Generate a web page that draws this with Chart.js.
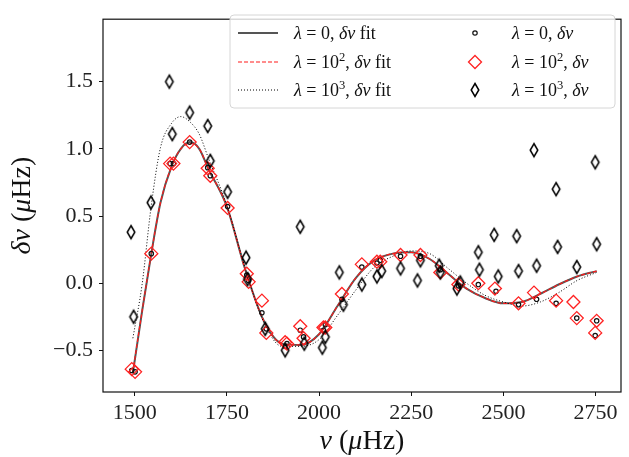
<!DOCTYPE html>
<html>
<head>
<meta charset="utf-8">
<script src="https://cdn.jsdelivr.net/npm/chart.js@4.4.1/dist/chart.umd.min.js"></script>
<style>
html,body{margin:0;padding:0;background:#fff;}
</style>
</head>
<body>
<canvas id="chart" width="629" height="457"></canvas>
<script>
// Fitted curves, sampled along nu (muHz)
const fitNu = [1495,1520,1545,1570,1600,1625,1650,1675,1700,1750,1800,1850,1900,1950,2000,2050,2100,2150,2200,2250,2300,2350,2400,2450,2500,2550,2600,2650,2700,2753];
const fit0 = [-0.67,-0.21,0.22,0.60,0.87,1.00,1.05,1.00,0.85,0.57,0.10,-0.28,-0.45,-0.46,-0.38,-0.17,0.04,0.17,0.22,0.23,0.18,0.07,-0.04,-0.11,-0.15,-0.14,-0.08,-0.01,0.05,0.09];
const fit2 = [-0.66,-0.21,0.22,0.60,0.87,1.00,1.04,1.00,0.85,0.57,0.10,-0.28,-0.45,-0.46,-0.38,-0.17,0.04,0.17,0.22,0.23,0.18,0.07,-0.04,-0.11,-0.15,-0.14,-0.08,-0.01,0.05,0.09];
const fit3 = [-0.41,-0.01,0.58,1.01,1.19,1.24,1.20,1.11,0.93,0.58,0.11,-0.29,-0.47,-0.47,-0.42,-0.24,-0.05,0.12,0.20,0.24,0.22,0.11,0.00,-0.09,-0.14,-0.17,-0.14,-0.07,0.02,0.08];

// lambda = 0 points
const nu0 = [1492,1501,1545,1596,1605,1649,1698,1705,1752,1804,1809,1845,1857,1908,1913,1949,1958,2012,2017,2062,2116,2157,2166,2221,2275,2329,2378,2432,2480,2541,2590,2643,2699,2749,2753];
const dnu0 = [-0.65,-0.66,0.22,0.89,0.89,1.05,0.86,0.80,0.57,0.06,0.02,-0.22,-0.34,-0.47,-0.45,-0.35,-0.40,-0.35,-0.31,-0.12,0.12,0.15,0.17,0.20,0.20,0.10,-0.02,-0.01,-0.06,-0.16,-0.12,-0.15,-0.26,-0.39,-0.28];

// lambda = 10^2 points
const nu2 = [1492,1501,1545,1596,1605,1649,1698,1705,1752,1804,1809,1845,1857,1908,1913,1949,1958,2012,2017,2062,2116,2157,2166,2221,2275,2329,2378,2432,2477,2541,2583,2643,2690,2699,2749,2753];
const dnu2 = [-0.64,-0.66,0.22,0.89,0.89,1.05,0.855,0.80,0.56,0.07,0.01,-0.13,-0.37,-0.44,-0.45,-0.32,-0.41,-0.33,-0.33,-0.08,0.14,0.16,0.16,0.21,0.21,0.08,-0.01,0.00,-0.04,-0.15,-0.07,-0.13,-0.14,-0.26,-0.37,-0.28];

// lambda = 10^3 points
const nu3 = [1490,1497,1544,1594,1602,1649,1698,1705,1752,1802,1806,1854,1908,1949,1960,2009,2017,2055,2066,2116,2157,2170,2221,2267,2275,2326,2329,2374,2383,2432,2435,2475,2486,2536,2541,2583,2590,2643,2647,2699,2749,2753];
const dnu3 = [0.38,-0.25,0.60,1.50,1.11,1.27,1.17,0.91,0.68,0.19,0.03,-0.34,-0.50,0.42,-0.45,-0.48,-0.40,0.08,-0.16,-0.01,0.05,0.09,0.11,0.02,0.17,0.13,0.08,-0.04,0.005,0.23,0.10,0.36,0.05,0.35,0.09,0.99,0.13,0.70,0.27,0.12,0.90,0.29];

const xTicks = [1500,1750,2000,2250,2500,2750];
const yTicks = [-0.5,0.0,0.5,1.0,1.5];
const fitLabels = ['λ = 0, δν fit','λ = 10^2, δν fit','λ = 10^3, δν fit'];
const ptLabels = ['λ = 0, δν','λ = 10^2, δν','λ = 10^3, δν'];
const xTitle = 'ν (μHz)';
const yTitle = 'δν (μHz)';

const SERIF = '"Liberation Serif", "DejaVu Serif", serif';

function pairs(xs, ys) { return xs.map((x, i) => ({x: x, y: ys[i]})); }

// narrow diamond marker (matplotlib "d")
function thinDiamond() {
  const c = document.createElement('canvas');
  c.width = 12; c.height = 18;
  const g = c.getContext('2d');
  g.strokeStyle = '#000';
  g.lineWidth = 1.5;
  g.beginPath();
  g.moveTo(6, 2.5); g.lineTo(9.8, 9); g.lineTo(6, 15.5); g.lineTo(2.2, 9); g.closePath();
  g.stroke();
  return c;
}
const dia = thinDiamond();

// text with italic greek letters and ^superscripts
function richText(ctx, s, x, y, size, measureOnly) {
  let w = 0;
  for (let i = 0; i < s.length; i++) {
    let ch = s[i], sup = false;
    if (ch === '^') { ch = s[++i]; sup = true; }
    const it = 'λδνμ'.includes(ch);
    const sz = sup ? size * 0.7 : size;
    ctx.font = (it ? 'italic ' : '') + sz + 'px ' + SERIF;
    if (!measureOnly) ctx.fillText(ch, x + w, y - (sup ? size * 0.4 : 0));
    w += ctx.measureText(ch).width;
  }
  return w;
}

const decor = {
  id: 'decor',
  afterDatasetsDraw(chart) {
    const ctx = chart.ctx, a = chart.chartArea;
    ctx.save();
    ctx.strokeStyle = '#111';
    ctx.lineWidth = 1.2;
    ctx.strokeRect(a.left, a.top, a.right - a.left, a.bottom - a.top);
    ctx.restore();
  },
  afterDraw(chart) {
    const ctx = chart.ctx, a = chart.chartArea;
    ctx.save();
    ctx.fillStyle = '#111';
    ctx.textBaseline = 'alphabetic';
    // axis titles
    let w = richText(ctx, xTitle, 0, 0, 28, true);
    richText(ctx, xTitle, (a.left + a.right) / 2 - w / 2, 449, 28);
    ctx.save();
    ctx.translate(30, (a.top + a.bottom) / 2);
    ctx.rotate(-Math.PI / 2);
    w = richText(ctx, yTitle, 0, 0, 28, true);
    richText(ctx, yTitle, -w / 2, 0, 28);
    ctx.restore();

    // legend box
    const bx = 230, by = 15, bw = 385, bh = 93;
    ctx.beginPath();
    ctx.roundRect(bx, by, bw, bh, 4);
    ctx.fillStyle = 'rgba(255,255,255,0.8)';
    ctx.fill();
    ctx.strokeStyle = '#d6d6d6';
    ctx.lineWidth = 1;
    ctx.stroke();
    const rows = [33, 62, 90];
    const ds = chart.data.datasets;
    for (let r = 0; r < 3; r++) {
      const y = rows[r];
      const f = ds[r];
      ctx.save();
      ctx.strokeStyle = f.borderColor;
      ctx.lineWidth = f.borderWidth;
      ctx.setLineDash(f.borderDash || []);
      ctx.beginPath();
      ctx.moveTo(238, y); ctx.lineTo(278, y);
      ctx.stroke();
      ctx.restore();
      const p = ds[r + 3];
      ctx.save();
      if (p.pointStyle === dia) {
        ctx.drawImage(dia, 475 - dia.width / 2, y - dia.height / 2);
      } else {
        ctx.strokeStyle = p.borderColor;
        ctx.lineWidth = p.borderWidth;
        ctx.beginPath();
        const rr = p.pointRadius;
        if (p.pointStyle === 'circle') ctx.arc(475, y, rr, 0, Math.PI * 2);
        else { ctx.moveTo(475, y - rr); ctx.lineTo(475 + rr, y); ctx.lineTo(475, y + rr); ctx.lineTo(475 - rr, y); ctx.closePath(); }
        ctx.stroke();
      }
      ctx.restore();
      ctx.fillStyle = '#111';
      richText(ctx, fitLabels[r], 294, y + 6, 18);
      richText(ctx, ptLabels[r], 512, y + 6, 18);
    }
    ctx.restore();
  }
};

const chart = new Chart(document.getElementById('chart'), {
  type: 'scatter',
  data: {
    datasets: [
      {type: 'line', label: fitLabels[0], data: pairs(fitNu, fit0), borderColor: '#555', borderWidth: 2,
        pointRadius: 0, cubicInterpolationMode: 'monotone', fill: false, order: 6},
      {type: 'line', label: fitLabels[1], data: pairs(fitNu, fit2), borderColor: '#ff1a1a', borderWidth: 1.2,
        borderDash: [4, 2], pointRadius: 0, cubicInterpolationMode: 'monotone', fill: false, order: 5},
      {type: 'line', label: fitLabels[2], data: pairs(fitNu, fit3), borderColor: '#000', borderWidth: 1,
        borderDash: [1, 2], pointRadius: 0, cubicInterpolationMode: 'monotone', fill: false, order: 4},
      {label: ptLabels[0], data: pairs(nu0, dnu0), pointStyle: 'circle', pointRadius: 2.2,
        borderColor: '#111', backgroundColor: 'rgba(0,0,0,0)', borderWidth: 1.2, order: 3},
      {label: ptLabels[1], data: pairs(nu2, dnu2), pointStyle: 'rectRot', pointRadius: 6.5,
        borderColor: '#f22', backgroundColor: 'rgba(0,0,0,0)', borderWidth: 1.3, order: 2},
      {label: ptLabels[2], data: pairs(nu3, dnu3), pointStyle: dia, pointRadius: 6,
        borderColor: '#000', backgroundColor: 'rgba(0,0,0,0)', borderWidth: 1.5, order: 1}
    ]
  },
  options: {
    responsive: false,
    animation: false,
    devicePixelRatio: 1,
    layout: {padding: {top: 6, right: 8, left: 0, bottom: 0}},
    plugins: {legend: {display: false}, tooltip: {enabled: false}},
    scales: {
      x: {
        type: 'linear', min: 1414, max: 2819,
        afterBuildTicks: s => { s.ticks = xTicks.map(v => ({value: v})); },
        afterFit: s => { s.height = 65; },
        grid: {drawOnChartArea: false, tickLength: 4, tickColor: '#111'},
        border: {display: false},
        ticks: {color: '#222', padding: 4, font: {family: SERIF, size: 22}, maxRotation: 0,
          callback: v => String(v)}
      },
      y: {
        type: 'linear', min: -0.81, max: 1.965,
        afterBuildTicks: s => { s.ticks = yTicks.map(v => ({value: v})); },
        afterFit: s => { s.width = 103; },
        grid: {drawOnChartArea: false, tickLength: 4, tickColor: '#111'},
        border: {display: false},
        ticks: {color: '#222', padding: 6, font: {family: SERIF, size: 22},
          callback: v => v.toFixed(1).replace('-', '\u2212')}
      }
    }
  },
  plugins: [decor]
});
</script>
</body>
</html>
